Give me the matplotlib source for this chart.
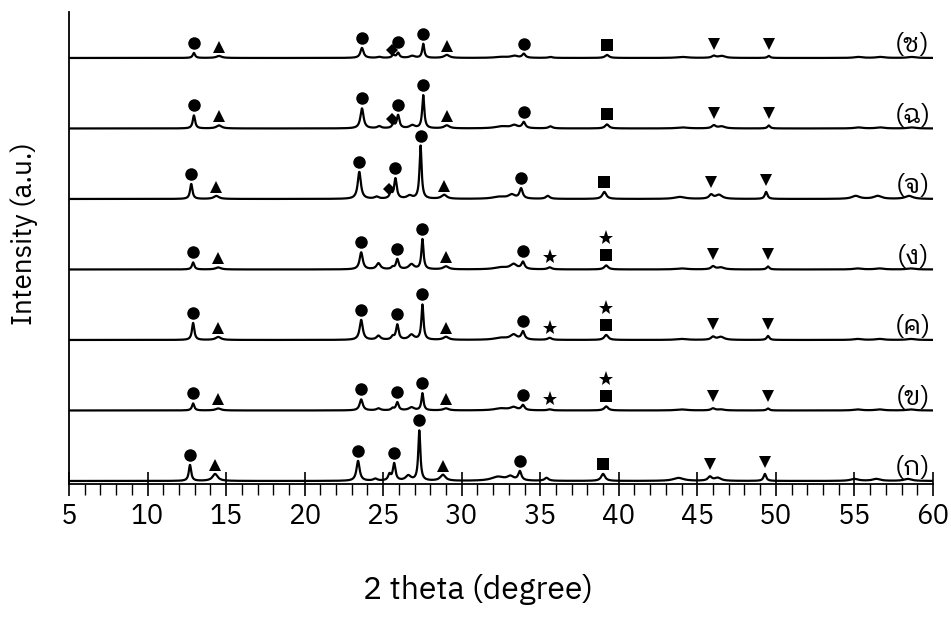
import numpy as np
import matplotlib
matplotlib.use("Agg")
import matplotlib.pyplot as plt
from matplotlib.ticker import MultipleLocator

plt.rcParams["font.family"] = ["IBM Plex Sans Thai Looped", "Noto Sans Thai Looped", "DejaVu Sans"]

# sample labels, bottom trace first
samples = ["(ก)", "(ข)", "(ค)", "(ง)", "(จ)", "(ฉ)", "(ช)"]

# reflections seen in the patterns (2 theta, degree) and their half widths
peak_pos = [12.9, 14.5, 23.6, 24.7, 25.6, 25.9, 26.8, 27.5, 29.0, 32.5, 33.3, 33.9,
            35.6, 39.2, 44.0, 46.0, 46.5, 49.5, 55.2, 56.6, 58.6]
peak_hw = [0.09, 0.2, 0.12, 0.15, 0.1, 0.1, 0.2, 0.08, 0.2, 0.5, 0.25, 0.12,
           0.15, 0.15, 0.4, 0.15, 0.25, 0.1, 0.3, 0.3, 0.3]

# peak heights (a.u.) per sample, same order as peak_pos
h_ko = [16, 7, 20, 2, 6, 17, 5, 50, 6, 4, 4, 9, 3, 7, 3, 4, 3, 7, 2, 2, 2]
h_kho = [7, 2, 11, 2, 2, 8, 3, 17, 2, 2, 3, 5, 1, 4, 1, 2, 1, 2, 1, 1, 1]
h_kho2 = [17, 3, 20, 4, 3, 15, 5, 35, 3, 2, 5, 8, 2, 5, 1, 3, 3, 4, 1, 1, 1]
h_ngo = [7, 2, 17, 6, 2, 10, 5, 30, 3, 2, 5, 7, 2, 4, 1, 3, 2, 3, 1, 1, 1]
h_cho = [15, 3, 27, 2, 5, 20, 3, 53, 4, 2, 4, 10, 3, 7, 2, 4, 4, 7, 3, 3, 3]
h_chi = [13, 3, 20, 2, 4, 13, 3, 33, 3, 2, 3, 6, 2, 4, 1, 3, 2, 3, 1, 1, 1]
h_cha = [5, 2, 10, 1, 3, 5, 2, 14, 3, 1, 2, 4, 1, 3, 1, 2, 2, 2, 1, 1, 1]
heights = [h_ko, h_kho, h_kho2, h_ngo, h_cho, h_chi, h_cha]

# small peak shift of each sample (degree)
shifts = [-0.2, 0.0, 0.0, 0.0, -0.12, 0.05, 0.05]

# phase symbols over the peaks
marks_a = [(12.9, "o"), (14.5, "^"), (23.6, "o"), (25.9, "o"), (27.5, "o"),
           (29.0, "^"), (33.9, "o"), (39.2, "s"), (46.0, "v"), (49.5, "v")]
marks_b = [(12.9, "o"), (14.5, "^"), (23.6, "o"), (25.9, "o"), (27.5, "o"),
           (29.0, "^"), (33.9, "o"), (35.6, "*"), (39.2, "s"), (39.2, "*s"),
           (46.0, "v"), (49.5, "v")]
marks_c = [(12.9, "o"), (14.5, "^"), (23.6, "o"), (25.5, "D"), (25.9, "o"), (27.5, "o"),
           (29.0, "^"), (33.9, "o"), (39.2, "s"), (46.0, "v"), (49.5, "v")]
marks = [marks_a, marks_b, marks_b, marks_b, marks_c, marks_c, marks_c]

offset = 70.5
gap = {"o": 10, "^": 9, "D": 6, "s": 10, "*": 10, "v": 12, "*s": 27}
msize = {"o": 9, "^": 9, "D": 6, "s": 8, "*": 11, "v": 9, "*s": 11}

x = np.linspace(5, 60, 5501)


def profile(hs, sh, xx):
    y = np.zeros_like(xx)
    for p, w, h in zip(peak_pos, peak_hw, hs):
        y += h / (1 + ((xx - p - sh) / w) ** 2)
    return y


fig, ax = plt.subplots(figsize=(9.51, 6.17), dpi=100)
fig.subplots_adjust(left=0.0726, right=0.981, bottom=0.2156, top=0.9806)

for i, (name, hs, sh, mk) in enumerate(zip(samples, heights, shifts, marks)):
    base = 3 + i * offset
    ax.plot(x, base + profile(hs, sh, x), color="black", lw=1.6)
    for pos, m in mk:
        px = pos + sh
        top = base + profile(hs, sh, np.array([px]))[0]
        sym = "*" if m == "*s" else m
        ax.plot(px, top + gap[m], marker=sym, color="black", ms=msize[m], mew=0, ls="none")
    ax.text(58.7, base + 13, name, ha="center", va="center", fontsize=19)

ax.set_xlim(5, 60)
ax.set_ylim(0, 472)
ax.xaxis.set_major_locator(MultipleLocator(5))
ax.xaxis.set_minor_locator(MultipleLocator(1))
ax.tick_params(axis="x", which="major", direction="inout", length=17, width=1.2, labelsize=20, pad=5)
ax.tick_params(axis="x", which="minor", direction="out", length=8, width=1.0)
ax.set_yticks([])
ax.spines["top"].set_visible(False)
ax.spines["right"].set_visible(False)
ax.spines["left"].set_linewidth(1.3)
ax.spines["bottom"].set_linewidth(1.3)

ax.set_xlabel("2 theta (degree)", fontsize=23)
ax.set_ylabel("Intensity (a.u.)", fontsize=20)
ax.xaxis.set_label_coords(0.473, -0.19)
ax.yaxis.set_label_coords(-0.036, 0.53)

fig.savefig("out.png", dpi=100)
